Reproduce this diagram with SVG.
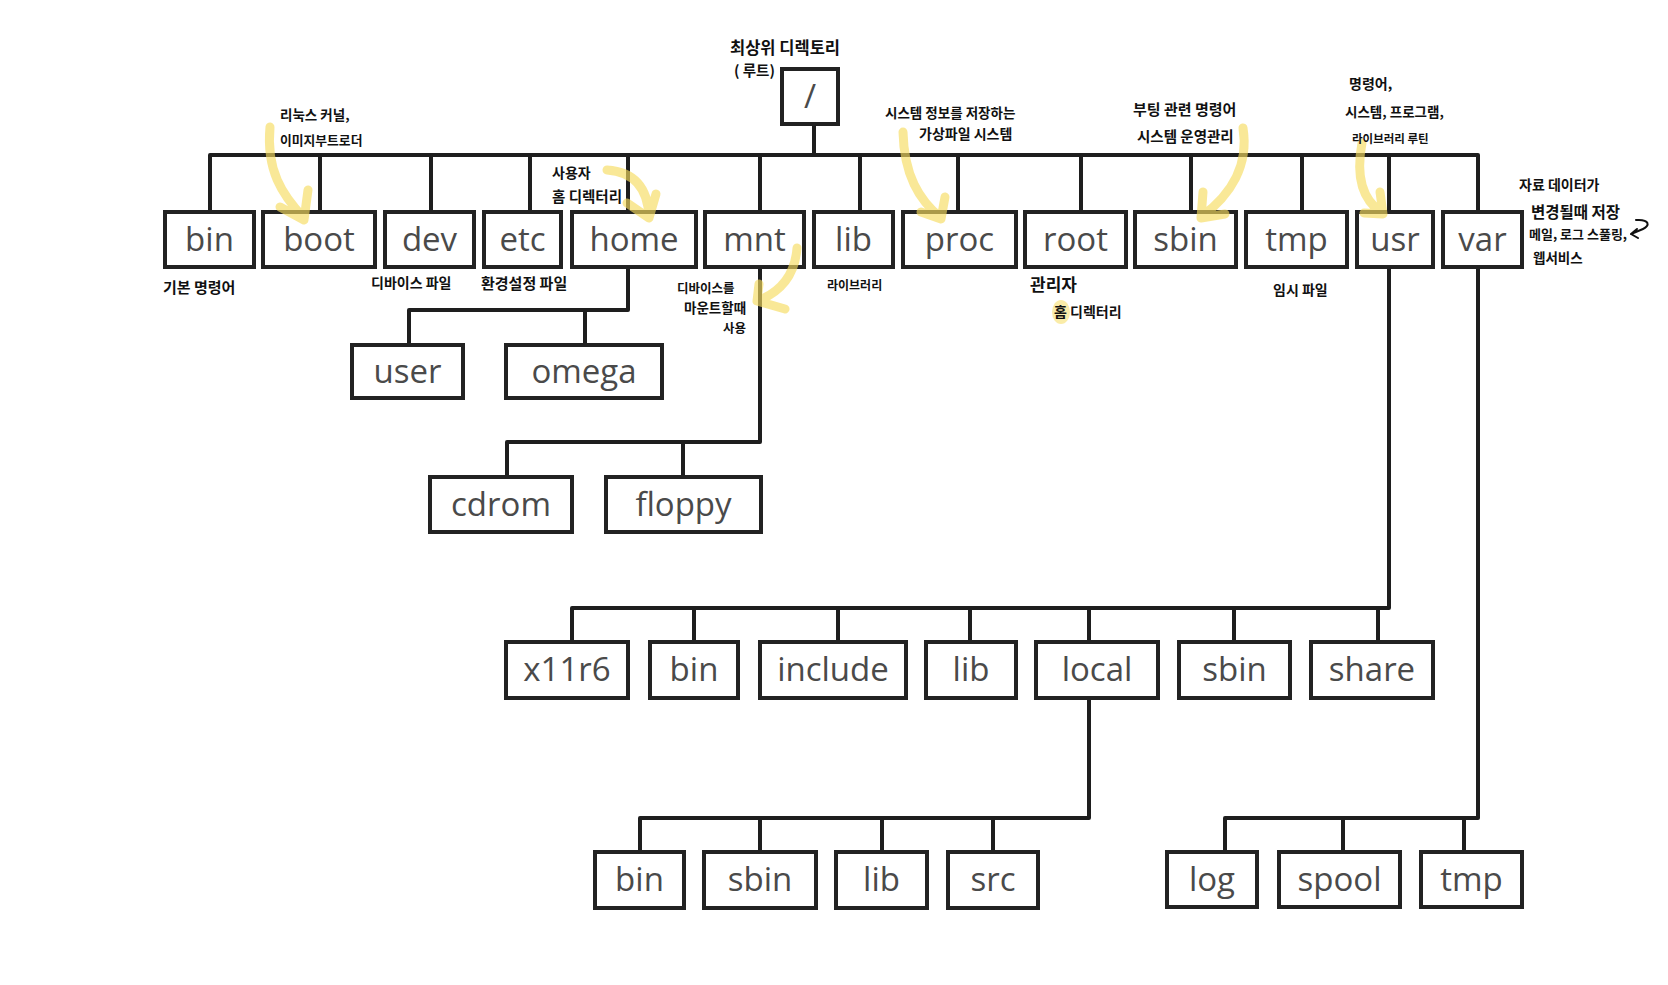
<svg xmlns="http://www.w3.org/2000/svg" width="1668" height="985" viewBox="0 0 1668 985">
<defs>
<style>
.box{fill:#fff;stroke:#222;stroke-width:4}
.lbl{font-family:"Open Sans","Noto Sans",sans-serif;font-size:33px;fill:#4a4a4a;text-anchor:middle}
.con{fill:none;stroke:#1e1e1e;stroke-width:4;stroke-linejoin:round}
.note{font-family:"Noto Sans CJK KR","Noto Sans",sans-serif;font-weight:700;fill:#111}
.hl{fill:none;stroke:#f6dc60;stroke-opacity:0.65;stroke-width:9;stroke-linecap:round;stroke-linejoin:round}
</style>
</defs>
<rect width="1668" height="985" fill="#fff"/>
<g id="connectors">
<polyline class="con" points="814,124 814,155"/>
<polyline class="con" points="210,212 210,155 1478,155 1478,818 1225,818 1225,852"/>
<line class="con" x1="320" y1="155" x2="320" y2="212"/>
<line class="con" x1="431" y1="155" x2="431" y2="212"/>
<line class="con" x1="530" y1="155" x2="530" y2="212"/>
<line class="con" x1="628" y1="155" x2="628" y2="212"/>
<line class="con" x1="760" y1="155" x2="760" y2="212"/>
<line class="con" x1="860" y1="155" x2="860" y2="212"/>
<line class="con" x1="958" y1="155" x2="958" y2="212"/>
<line class="con" x1="1081" y1="155" x2="1081" y2="212"/>
<line class="con" x1="1191" y1="155" x2="1191" y2="212"/>
<line class="con" x1="1302" y1="155" x2="1302" y2="212"/>
<line class="con" x1="1389" y1="155" x2="1389" y2="212"/>
<polyline class="con" points="628,267 628,310 409,310 409,345"/>
<line class="con" x1="585" y1="310" x2="585" y2="345"/>
<polyline class="con" points="760,267 760,442 507,442 507,477"/>
<line class="con" x1="683" y1="442" x2="683" y2="477"/>
<polyline class="con" points="1389,267 1389,608 572,608 572,642"/>
<line class="con" x1="694" y1="608" x2="694" y2="642"/>
<line class="con" x1="838" y1="608" x2="838" y2="642"/>
<line class="con" x1="970" y1="608" x2="970" y2="642"/>
<line class="con" x1="1089" y1="608" x2="1089" y2="642"/>
<line class="con" x1="1234" y1="608" x2="1234" y2="642"/>
<line class="con" x1="1378" y1="608" x2="1378" y2="642"/>
<polyline class="con" points="1089,698 1089,818 640,818 640,852"/>
<line class="con" x1="760" y1="818" x2="760" y2="852"/>
<line class="con" x1="882" y1="818" x2="882" y2="852"/>
<line class="con" x1="993" y1="818" x2="993" y2="852"/>
<line class="con" x1="1343" y1="818" x2="1343" y2="852"/>
<line class="con" x1="1464" y1="818" x2="1464" y2="852"/>
</g>
<g id="n-root"><rect class="box" x="782" y="69" width="56" height="55"/><text class="lbl" x="810" y="108">/</text></g>
<g id="n-bin"><rect class="box" x="165" y="212" width="89" height="55"/><text class="lbl" x="209.5" y="251">bin</text></g>
<g id="n-boot"><rect class="box" x="263" y="212" width="112" height="55"/><text class="lbl" x="319" y="251">boot</text></g>
<g id="n-dev"><rect class="box" x="385" y="212" width="89" height="55"/><text class="lbl" x="429.5" y="251">dev</text></g>
<g id="n-etc"><rect class="box" x="484" y="212" width="77" height="55"/><text class="lbl" x="522.5" y="251">etc</text></g>
<g id="n-home"><rect class="box" x="572" y="212" width="124" height="55"/><text class="lbl" x="634" y="251">home</text></g>
<g id="n-mnt"><rect class="box" x="705" y="212" width="99" height="55"/><text class="lbl" x="754.5" y="251">mnt</text></g>
<g id="n-lib"><rect class="box" x="814" y="212" width="79" height="55"/><text class="lbl" x="853.5" y="251">lib</text></g>
<g id="n-proc"><rect class="box" x="903" y="212" width="113" height="55"/><text class="lbl" x="959.5" y="251">proc</text></g>
<g id="n-rootdir"><rect class="box" x="1025" y="212" width="101" height="55"/><text class="lbl" x="1075.5" y="251">root</text></g>
<g id="n-sbin"><rect class="box" x="1135" y="212" width="101" height="55"/><text class="lbl" x="1185.5" y="251">sbin</text></g>
<g id="n-tmp"><rect class="box" x="1246" y="212" width="101" height="55"/><text class="lbl" x="1296.5" y="251">tmp</text></g>
<g id="n-usr"><rect class="box" x="1357" y="212" width="76" height="55"/><text class="lbl" x="1395" y="251">usr</text></g>
<g id="n-var"><rect class="box" x="1443" y="212" width="79" height="55"/><text class="lbl" x="1482.5" y="251">var</text></g>
<g id="n-user"><rect class="box" x="352" y="345" width="111" height="53"/><text class="lbl" x="407.5" y="383">user</text></g>
<g id="n-omega"><rect class="box" x="506" y="345" width="156" height="53"/><text class="lbl" x="584" y="383">omega</text></g>
<g id="n-cdrom"><rect class="box" x="430" y="477" width="142" height="55"/><text class="lbl" x="501" y="516">cdrom</text></g>
<g id="n-floppy"><rect class="box" x="606" y="477" width="155" height="55"/><text class="lbl" x="683.5" y="516">floppy</text></g>
<g id="n-x11r6"><rect class="box" x="506" y="642" width="122" height="56"/><text class="lbl" x="567" y="681">x11r6</text></g>
<g id="n-usr-bin"><rect class="box" x="650" y="642" width="88" height="56"/><text class="lbl" x="694" y="681">bin</text></g>
<g id="n-include"><rect class="box" x="760" y="642" width="146" height="56"/><text class="lbl" x="833" y="681">include</text></g>
<g id="n-usr-lib"><rect class="box" x="926" y="642" width="90" height="56"/><text class="lbl" x="971" y="681">lib</text></g>
<g id="n-local"><rect class="box" x="1036" y="642" width="122" height="56"/><text class="lbl" x="1097" y="681">local</text></g>
<g id="n-usr-sbin"><rect class="box" x="1179" y="642" width="111" height="56"/><text class="lbl" x="1234.5" y="681">sbin</text></g>
<g id="n-share"><rect class="box" x="1311" y="642" width="122" height="56"/><text class="lbl" x="1372" y="681">share</text></g>
<g id="n-local-bin"><rect class="box" x="595" y="852" width="89" height="56"/><text class="lbl" x="639.5" y="891">bin</text></g>
<g id="n-local-sbin"><rect class="box" x="704" y="852" width="112" height="56"/><text class="lbl" x="760" y="891">sbin</text></g>
<g id="n-local-lib"><rect class="box" x="836" y="852" width="91" height="56"/><text class="lbl" x="881.5" y="891">lib</text></g>
<g id="n-src"><rect class="box" x="948" y="852" width="90" height="56"/><text class="lbl" x="993" y="891">src</text></g>
<g id="n-log"><rect class="box" x="1167" y="852" width="90" height="55"/><text class="lbl" x="1212" y="891">log</text></g>
<g id="n-spool"><rect class="box" x="1279" y="852" width="121" height="55"/><text class="lbl" x="1339.5" y="891">spool</text></g>
<g id="n-var-tmp"><rect class="box" x="1421" y="852" width="101" height="55"/><text class="lbl" x="1471.5" y="891">tmp</text></g>
<g id="highlights">
<path class="hl" d="M270,127 C266,170 282,195 304,218 M280,207 L304,220 L308,190"/>
<path class="hl" d="M607,170 C636,172 648,190 649,217 M627,203 L649,218 L656,194"/>
<path class="hl" d="M797,248 C795,275 781,291 760,300 M759,284 L757,301 L785,309"/>
<path class="hl" d="M903,132 C904,175 919,200 941,218 M921,212 L941,219 L945,197"/>
<path class="hl" d="M1243,128 C1249,165 1231,195 1201,217 M1203,192 L1201,218 L1225,214"/>
<path class="hl" d="M1362,143 C1355,180 1364,201 1382,213 M1364,213 L1383,214 L1380,192"/>
<ellipse cx="1061" cy="312" rx="9" ry="12" fill="#f6dc60" fill-opacity="0.55"/>
</g>
<g id="annotations">
<text class="note" x="730" y="54" font-size="16.5">최상위 디렉토리</text>
<text class="note" x="734" y="76" font-size="14.5">( 루트)</text>
<text class="note" x="280" y="120" font-size="13.5">리눅스 커널,</text>
<text class="note" x="280" y="145" font-size="12.8">이미지부트로더</text>
<text class="note" x="552" y="178" font-size="14">사용자</text>
<text class="note" x="552" y="202" font-size="14.5">홈 디렉터리</text>
<text class="note" x="163" y="293" font-size="15">기본 명령어</text>
<text class="note" x="371" y="288" font-size="14">디바이스 파일</text>
<text class="note" x="481" y="289" font-size="15">환경설정 파일</text>
<text class="note" x="677" y="293" font-size="12.5">디바이스를</text>
<text class="note" x="684" y="313" font-size="13.5">마운트할때</text>
<text class="note" x="723" y="333" font-size="12.5">사용</text>
<text class="note" x="827" y="290" font-size="12">라이브러리</text>
<text class="note" x="885" y="118" font-size="13.5">시스템 정보를 저장하는</text>
<text class="note" x="919" y="139" font-size="14">가상파일 시스템</text>
<text class="note" x="1133" y="115" font-size="15">부팅 관련 명령어</text>
<text class="note" x="1137" y="142" font-size="14.5">시스템 운영관리</text>
<text class="note" x="1030" y="291" font-size="17">관리자</text>
<text class="note" x="1054" y="317" font-size="14">홈 디렉터리</text>
<text class="note" x="1273" y="295" font-size="14">임시 파일</text>
<text class="note" x="1349" y="89" font-size="14">명령어,</text>
<text class="note" x="1345" y="117" font-size="13.5">시스템, 프로그램,</text>
<text class="note" x="1352" y="143" font-size="11.5">라이브러리 루틴</text>
<text class="note" x="1519" y="190" font-size="14">자료 데이터가</text>
<text class="note" x="1531" y="218" font-size="15.5">변경될때 저장</text>
<text class="note" x="1529" y="239" font-size="13">메일, 로그 스풀링,</text>
<text class="note" x="1533" y="263" font-size="13.5">웹서비스</text>
<path d="M1636,220 C1650,219 1650,226 1643,229 L1631,234 M1637,229 L1631,234 L1638,238" fill="none" stroke="#111" stroke-width="2" stroke-linecap="round" stroke-linejoin="round"/>
</g>
</svg>
